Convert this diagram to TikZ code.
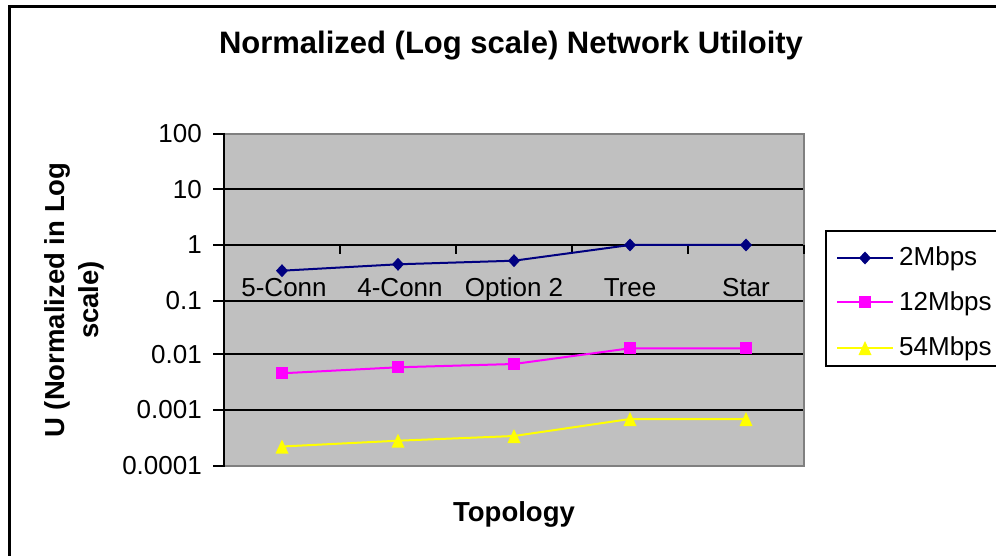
\documentclass[tikz,border=0pt]{standalone}
\usepackage{fontspec}
\setmainfont{Liberation Sans}
\usetikzlibrary{calc}
\definecolor{plotgrey}{HTML}{C0C0C0}
\definecolor{framegrey}{HTML}{808080}
\definecolor{navyline}{HTML}{000080}
\definecolor{magline}{HTML}{FF00FF}
\definecolor{yelline}{HTML}{FFFF00}
\begin{document}
\begin{tikzpicture}[x=1pt,y=-1pt,
  gridline/.style={black, line width=2pt},
  ticklabel/.style={font=\fontsize{26}{30}\selectfont, anchor=east, inner sep=0pt},
  catlabel/.style={font=\fontsize{26}{30}\selectfont, anchor=base, inner sep=0pt},
  leglabel/.style={font=\fontsize{26}{30}\selectfont, anchor=base west, inner sep=0pt},
  axistitle/.style={font=\bfseries\fontsize{27.5}{34}\selectfont, inner sep=0pt},
  series/.style={line width=2pt, line join=round},
  diamondmark/.pic={\fill[navyline] (-6,0) -- (0,-6.5) -- (6,0) -- (0,6.5) -- cycle;},
  squaremark/.pic={\fill[magline] (-6,-6) rectangle (6,6);},
  trianglemark/.pic={\fill[yelline] (-6.5,7) -- (6.5,7) -- (0,-7) -- cycle;}
]
\useasboundingbox (0,0) rectangle (996,556);
\clip (0,0) rectangle (996,556);

% outer chart frame (runs off the right and bottom edges)
\draw[line width=2.5pt] (9.5,6.5) rectangle (1020,580);

% title
\node[font=\bfseries\fontsize{31}{36}\selectfont, anchor=base, inner sep=0pt]
  (title) at (511,54) {Normalized (Log scale) Network Utiloity};

% plot area
\fill[plotgrey] (224,134) rectangle (804,466);
\draw[framegrey, line width=2pt] (224,134) -- (804,134) -- (804,466) -- (224,466);

% decade gridlines and value axis
\foreach \gy in {189.3,245,300.7,354.3,410}
  \draw[gridline] (224,\gy) -- (803,\gy);
\draw[gridline] (224,133) -- (224,467);
\foreach \gy/\lab [count=\i] in {134/100,189.3/10,245/1,300.7/0.1,354.3/0.01,410/0.001,466/0.0001}{
  \draw[gridline] (213,\gy) -- (224,\gy);
  \node[ticklabel] (ytick\i) at (202,\gy) {\lab};
}

% category axis ticks (axis crosses at 1)
\foreach \tx in {340,456,572,688,804}
  \draw[black, line width=2pt] (\tx,245) -- (\tx,254);

% category labels
\foreach \cx/\lab [count=\i] in {284/5-Conn,400/4-Conn,514/Option 2,630/Tree,746/Star}
  \node[catlabel] (cat\i) at (\cx,296) {\lab};

% data points
\coordinate (a1) at (282,270.7); \coordinate (a2) at (398,264.3);
\coordinate (a3) at (514,260.7); \coordinate (a4) at (630,245);
\coordinate (a5) at (746,245);
\coordinate (b1) at (282,373.3); \coordinate (b2) at (398,367.3);
\coordinate (b3) at (514,364);   \coordinate (b4) at (630,348.3);
\coordinate (b5) at (746,348.3);
\coordinate (c1) at (282,446.5); \coordinate (c2) at (398,440.7);
\coordinate (c3) at (514,436);   \coordinate (c4) at (630,419);
\coordinate (c5) at (746,419);

% series lines
\draw[series, navyline] (a1) -- (a2) -- (a3) -- (a4) -- (a5);
\draw[series, magline]  (b1) -- (b2) -- (b3) -- (b4) -- (b5);
\draw[series, yelline]  (c1) -- (c2) -- (c3) -- (c4) -- (c5);

% markers
\foreach \p in {a1,a2,a3,a4,a5} \pic at (\p) {diamondmark};
\foreach \p in {b1,b2,b3,b4,b5} \pic at (\p) {squaremark};
\foreach \p in {c1,c2,c3,c4,c5} \pic at (\p) {trianglemark};

% axis titles
\node[axistitle, anchor=base] (xtitle) at (514,521.7) {Topology};
\node[axistitle, rotate=90, align=center] (ytitle) at (74,300)
  {U (Normalized in Log\\scale)};

% legend
\draw[line width=2pt] (826,231) rectangle (1020,366);
\coordinate (la) at (837,258); \coordinate (lb) at (893,258);
\coordinate (lc) at (837,302); \coordinate (ld) at (893,302);
\coordinate (le) at (837,348); \coordinate (lf) at (893,348);
\draw[series, navyline] (la) -- (lb);
\draw[series, magline]  (lc) -- (ld);
\draw[series, yelline]  (le) -- (lf);
\pic at ($(la)!0.5!(lb)$) {diamondmark};
\pic at ($(lc)!0.5!(ld)$) {squaremark};
\pic at ($(le)!0.5!(lf)$) {trianglemark};
\node[leglabel] (leg1) at (899,265.7) {2Mbps};
\node[leglabel] (leg2) at (899,310.7) {12Mbps};
\node[leglabel] (leg3) at (899,355) {54Mbps};
\end{tikzpicture}
\end{document}
